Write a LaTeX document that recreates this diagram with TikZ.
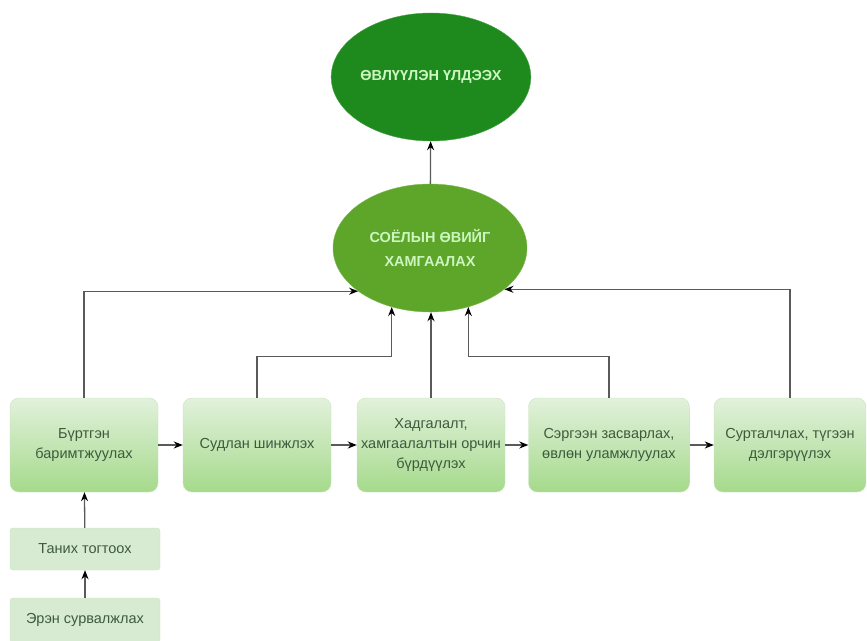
\documentclass[tikz,border=0pt]{standalone}
\usepackage{fontspec}
\setmainfont{Liberation Sans}
\usetikzlibrary{arrows.meta,shapes.geometric}
\definecolor{darkg}{HTML}{1E8A1E}
\definecolor{midg}{HTML}{5DA62A}
\definecolor{paletxt}{HTML}{CCF5C0}
\definecolor{boxtop}{HTML}{E2F1DC}
\definecolor{boxbot}{HTML}{A5DA8B}
\definecolor{boxline}{HTML}{C8E2C0}
\definecolor{boxtxt}{HTML}{3E5A3E}
\definecolor{smallfill}{HTML}{D7EBD2}
\definecolor{wire}{HTML}{5A5A5A}
\tikzset{
  goal/.style={ellipse, draw=#1!80!white, fill=#1, text=paletxt, align=center,
    font=\fontsize{14.5}{24}\selectfont\bfseries, inner sep=0pt},
  stepbox/.style={rectangle, rounded corners=9pt, draw=boxline, top color=boxtop,
    bottom color=boxbot, text=boxtxt, align=center, minimum height=94pt,
    font=\fontsize{14.5}{20}\selectfont, inner sep=1pt},
  smallbox/.style={rectangle, rounded corners=3pt, draw=boxline, fill=smallfill,
    text=boxtxt, align=center, minimum width=150pt,
    font=\fontsize{14.5}{18}\selectfont},
  link/.style={draw=wire, line width=1.3pt, -{Stealth[length=9pt,width=7pt,color=black]}}
}
\begin{document}
\begin{tikzpicture}[x=1pt,y=-1pt]
\useasboundingbox (0,0) rectangle (867,640);
\node[goal=darkg, minimum width=182pt, minimum height=128pt] (e1) at (431,77) {ӨВЛҮҮЛЭН ҮЛДЭЭХ};
\node[goal=midg, minimum width=194pt, minimum height=128pt] (e2) at (430,248) {СОЁЛЫН ӨВИЙГ\\ХАМГААЛАХ};

\node[stepbox, minimum width=148pt] (b1) at (84,445) {Бүртгэн\\баримтжуулах};
\node[stepbox, minimum width=148pt] (b2) at (257,445) {Судлан шинжлэх};
\node[stepbox, minimum width=148pt] (b3) at (431,445) {Хадгалалт,\\хамгаалалтын орчин\\бүрдүүлэх};
\node[stepbox, minimum width=161pt] (b4) at (609,445) {Сэргээн засварлах,\\өвлөн уламжлуулах};
\node[stepbox, minimum width=152pt] (b5) at (790,445) {Сурталчлах, түгээн\\дэлгэрүүлэх};

\node[smallbox, minimum height=42pt] (t1) at (85,549) {Таних тогтоох};
\node[smallbox, minimum height=44pt] (t2) at (85,620) {Эрэн сурвалжлах};

\draw[link] (e2) -- (e1);
\draw[link] (b1) -- (b2);
\draw[link] (b2) -- (b3);
\draw[link] (b3) -- (b4);
\draw[link] (b4) -- (b5);
\draw[link] (t1) -- (b1);
\draw[link] (t2) -- (t1);

\draw[link] (b1.north) |- (e2.211);
\draw[link] (b5.north) |- (e2.331);
\draw[link] (b2.north) -- ++(0,-41) -| (e2.237);
\draw[link] (b4.north) -- ++(0,-41) -| (e2.303);
\draw[link] (b3.north) -- (b3.north |- e2.south);
\end{tikzpicture}
\end{document}
